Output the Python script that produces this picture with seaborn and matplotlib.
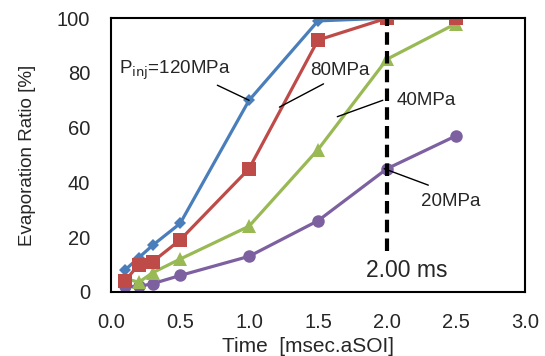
import pandas as pd
import matplotlib.pyplot as plt
import seaborn as sns

# ---------- data ----------
time_ms = [0.1, 0.2, 0.3, 0.5, 1.0, 1.5, 2.0, 2.5]
ratio_120 = [8, 12.5, 17, 25, 70, 99, 100, 100]
ratio_80 = [4, 10, 11, 19, 45, 92, 100, 100]
ratio_40 = [5, 3.5, 7, 12, 24, 52, 85, 98]
ratio_20 = [2, 2, 3, 6, 13, 26, 45, 57]
x_ticks = [0.0, 0.5, 1.0, 1.5, 2.0, 2.5, 3.0]
y_ticks = [0, 20, 40, 60, 80, 100]

series = {
    "120MPa": ratio_120,
    "80MPa": ratio_80,
    "40MPa": ratio_40,
    "20MPa": ratio_20,
}
colors = {"120MPa": "#4A7EBB", "80MPa": "#BE4B48", "40MPa": "#98B954", "20MPa": "#7D60A0"}
markers = {"120MPa": "D", "80MPa": "s", "40MPa": "^", "20MPa": "o"}
msizes = {"120MPa": 6.5, "80MPa": 9.5, "40MPa": 10, "20MPa": 9}

df = pd.concat(
    [pd.DataFrame({"time": time_ms, "ratio": v, "p": k}) for k, v in series.items()],
    ignore_index=True,
)

sns.set_theme(style="white")
plt.rcParams["font.family"] = ["Liberation Sans", "DejaVu Sans"]

fig = plt.figure(figsize=(5.45, 3.56), dpi=100)
ax = fig.add_axes([0.204, 0.180, 0.759, 0.769])

for p in ["20MPa", "40MPa", "120MPa", "80MPa"]:
    sub = df[df["p"] == p]
    sns.lineplot(data=sub, x="time", y="ratio", ax=ax, color=colors[p],
                 marker=markers[p], markersize=msizes[p], markeredgewidth=0,
                 linewidth=2.3, legend=False)

# dashed marker at 2.0 ms
ax.plot([2.0, 2.0], [15, 100], color="black", linestyle=(0, (3, 1.5)), linewidth=3, zorder=5)
ax.text(2.145, 8, "2.00 ms", fontsize=16.5, ha="center", va="center")

# labels with leader lines
ax.text(0.06, 81, r"P$_{\mathrm{inj}}$=120MPa", fontsize=13.5, va="center")
ax.plot([0.77, 1.0], [75.5, 70], color="black", linewidth=1)
ax.text(1.44, 81, "80MPa", fontsize=13.5, va="center")
ax.plot([1.54, 1.22], [76, 67.5], color="black", linewidth=1)
ax.text(2.07, 70, "40MPa", fontsize=13.5, va="center")
ax.plot([1.97, 1.64], [70, 64], color="black", linewidth=1)
ax.text(2.25, 33, "20MPa", fontsize=13.5, va="center")
ax.plot([1.98, 2.30], [45, 39], color="black", linewidth=1)

ax.set_xlim(0, 3.0)
ax.set_ylim(0, 100)
ax.set_xticks(x_ticks)
ax.set_xticklabels([f"{t:.1f}" for t in x_ticks])
ax.set_yticks(y_ticks)
ax.tick_params(axis="x", direction="in", length=5, width=1, labelsize=14.5, pad=15, color="black")
ax.tick_params(axis="y", direction="in", length=4, width=1, labelsize=14.5, pad=15, color="black")
ax.set_xlabel("Time  [msec.aSOI]", fontsize=15, labelpad=2)
ax.xaxis.set_label_coords(0.475, -0.165)
ax.set_ylabel("Evaporation Ratio [%]", fontsize=13.5, labelpad=15)
for s in ax.spines.values():
    s.set_color("black")
    s.set_linewidth(1.5)

plt.savefig("out.png", dpi=100)
